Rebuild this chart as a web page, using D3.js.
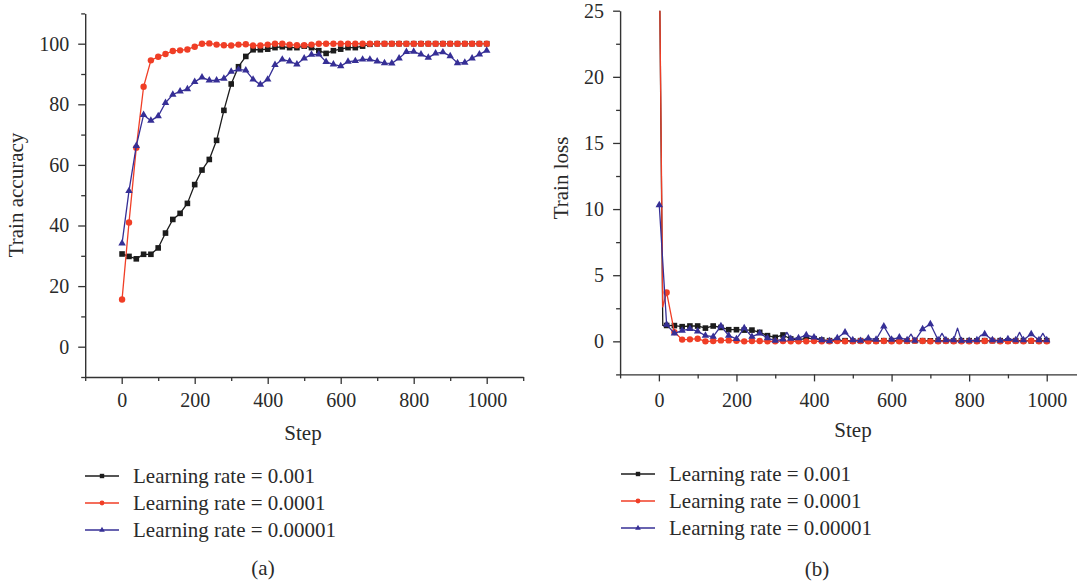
<!DOCTYPE html>
<html><head><meta charset="utf-8">
<script src="https://cdn.jsdelivr.net/npm/d3@7"></script>
<style>
body{margin:0;background:#fff}
svg{display:block}
text{font-family:"Liberation Serif","Times New Roman",serif;fill:#2a2a2a}
</style>
</head><body>
<svg id="c" width="1077" height="583"></svg>
<script>
// ---------- DATA ----------
const seriesNames = ["Learning rate = 0.001", "Learning rate = 0.0001", "Learning rate = 0.00001"];

const accSteps = [1,20,40,60,80,100,120,140,160,180,200,220,240,260,280,300,320,340,360,380,400,420,440,460,480,500,520,540,560,580,600,620,640,660,680,700,720,740,760,780,800,820,840,860,880,900,920,940,960,980,1000];
const acc001 = [30.6,29.8,29.0,30.5,30.5,32.6,37.5,42.0,44.0,47.3,53.5,58.3,61.8,68.1,78.0,86.7,92.4,95.8,98.0,98.0,98.2,98.7,99.0,98.7,98.7,99.2,98.7,97.7,96.8,97.7,98.2,98.7,98.7,99.2,99.8,100,100,100,100,100,100,100,100,100,100,100,100,100,100,100,100];
const acc0001 = [15.6,41.0,65.7,85.8,94.5,95.7,96.6,97.6,97.8,98.1,99.0,100.0,100.1,99.7,99.5,99.4,99.7,99.8,99.4,99.4,99.7,100.0,100.0,99.7,99.5,99.5,99.7,100,100,100,100,100,100,100,100,100,100,100,100,100,100,100,100,100,100,100,100,100,100,100,100];
const acc00001 = [34.1,51.4,66.3,76.5,74.6,76.1,80.5,83.2,84.3,85.0,87.4,88.9,87.9,87.9,88.5,90.8,91.5,91.2,88.2,86.5,88.2,93.0,94.8,94.2,93.2,95.2,96.4,96.5,94.0,93.2,92.6,94.1,94.3,94.8,94.8,94.2,93.6,93.5,95.2,97.3,97.4,96.5,95.4,96.8,97.2,95.9,93.6,93.8,95.2,96.5,97.7];

const lossStepsA = [1,10,20,40,60,80,100,120,140,160,180,200,220,240,260,280,300,320,340,360,380,400,420,440,460,480,500,520,540,560,580,600,620,640,660,680,700,720,740,760,780,800,820,840,860,880,900,920,940,960,980,1000];
const loss001 = [30,1.2,1.2,1.19,1.11,1.16,1.16,1.0,1.16,1.05,0.88,0.88,0.85,0.85,0.68,0.43,0.3,0.48,0.18,0.1,0.25,0.2,0.1,
  0.05,0.08,0.05,0.03,0.05,0.05,0.04,0.05,0.06,0.05,0.03,0.05,0.05,0.04,0.05,0.05,0.03,0.05,0.05,0.04,0.05,0.05,0.05,0.04,0.05,0.05,0.03,0.05,0.05];
const loss0001 = [30,2.6,3.7,0.7,0.13,0.15,0.2,0.0,0.02,0.07,0.07,0.05,0.0,0.02,0.02,0.0,0.0,0.03,0.0,0.0,0.0,0.02,0.0,
  0.0,0.02,0.0,0.0,0.02,0.0,0.0,0.03,0.0,0.0,0.02,0.05,0.03,0.0,0.0,0.02,0.0,0.0,0.0,0.0,0.02,0.05,0.0,0.0,0.02,0.0,0.05,0.0,0.0];
const lossStepsB = [1,20,40,60,80,100,120,140,160,180,200,220,240,260,280,300,320,330,340,360,380,400,420,440,460,480,500,520,540,560,580,600,620,640,650,660,680,700,720,730,740,760,770,780,800,820,830,840,860,880,900,920,930,940,960,980,990,1000];
const loss00001 = [10.3,1.26,0.6,0.81,0.94,0.76,0.43,0.35,1.16,0.43,0.18,1.0,0.35,0.6,0.25,0.05,0.15,0.68,0.2,0.25,0.48,0.3,0.1,0.02,0.25,0.68,0.1,0.05,0.23,0.13,1.14,0.13,0.3,0.1,0.55,0.05,0.93,1.31,0.1,0.6,0.1,0.1,1.0,0.05,0.05,0.1,0.45,0.55,0.1,0.05,0.18,0.1,0.68,0.1,0.55,0.1,0.6,0.1];

const xMajor = [0,200,400,600,800,1000];
const xMinor = [-100,100,300,500,700,900,1100];
const accMajor = [0,20,40,60,80,100];
const accMinor = [-10,10,30,50,70,90,110];
const lossMajor = [0,5,10,15,20,25];
const lossMinor = [-2.5,2.5,7.5,12.5,17.5,22.5];

// ---------- STYLE ----------
const colors = ["#1c1c1c", "#f03e26", "#362f96"];
const shapes = ["square", "circle", "triangle"];
const axisColor = "#333";

const svg = d3.select("#c");

function zip(steps, vals){ return steps.map((s,i)=>({step:s, v:vals[i]})); }

function drawMarker(g, shape, color, x, y, big){
  if(shape==="square"){
    const s = big?5.6:4.4;
    g.append("rect").attr("x",x-s/2).attr("y",y-s/2).attr("width",s).attr("height",s).attr("fill",color);
  } else if(shape==="circle"){
    g.append("circle").attr("cx",x).attr("cy",y).attr("r",big?3.2:2.4).attr("fill",color);
  } else {
    g.append("path").attr("d", d3.symbol(d3.symbolTriangle, big?24:14)()).attr("transform",`translate(${x},${y})`).attr("fill",color);
  }
}

function axes(g, x, y, yMaj, yMin, xPad){
  const ax = g.append("g").attr("transform",`translate(0,${y.range()[0]})`);
  ax.call(d3.axisBottom(x).tickValues(xMajor).tickSize(7).tickSizeOuter(0).tickPadding(xPad).tickFormat(d3.format("d")));
  const axm = g.append("g").attr("transform",`translate(0,${y.range()[0]})`);
  axm.call(d3.axisBottom(x).tickValues(xMinor).tickSize(4).tickSizeOuter(0).tickFormat(""));
  axm.select(".domain").remove();
  const ay = g.append("g").attr("transform",`translate(${x.range()[0]},0)`);
  ay.call(d3.axisLeft(y).tickValues(yMaj).tickSize(7).tickSizeOuter(0).tickPadding(9).tickFormat(d3.format("d")));
  const aym = g.append("g").attr("transform",`translate(${x.range()[0]},0)`);
  aym.call(d3.axisLeft(y).tickValues(yMin).tickSize(4).tickSizeOuter(0).tickFormat(""));
  aym.select(".domain").remove();
  g.selectAll(".domain").attr("stroke",axisColor).attr("stroke-width",1.4);
  g.selectAll(".tick line").attr("stroke",axisColor).attr("stroke-width",1.3);
  g.selectAll(".tick text").attr("font-size",20).attr("font-family",'"Liberation Serif", serif').attr("fill","#2a2a2a");
}

function series(g, x, y, data, color, shape, clipId){
  const gg = g.append("g");
  if(clipId) gg.attr("clip-path",`url(#${clipId})`);
  const line = d3.line().x(d=>x(d.step)).y(d=>y(d.v));
  gg.append("path").attr("d",line(data)).attr("fill","none").attr("stroke",color).attr("stroke-width",1.3).attr("stroke-linejoin","round");
  data.filter(d=>d.step===1 || d.step%20===0).forEach(d=>drawMarker(gg, shape, color, x(d.step), y(d.v), true));
}

function legend(g, x0, ys){
  seriesNames.forEach((name,i)=>{
    g.append("line").attr("x1",x0).attr("x2",x0+34).attr("y1",ys[i]).attr("y2",ys[i]).attr("stroke",colors[i]).attr("stroke-width",1.4);
    drawMarker(g, shapes[i], colors[i], x0+17, ys[i], false);
    g.append("text").attr("x",x0+48).attr("y",ys[i]).attr("dy","0.35em").attr("font-size",21).text(name);
  });
}

// ---------- PANEL A ----------
const xA = d3.scaleLinear([-100,1100],[85.2,523.2]);
const yA = d3.scaleLinear([-10,110],[377,13.4]);
const gA = svg.append("g");
axes(gA, xA, yA, accMajor, accMinor, 8.8);
[acc001, acc0001, acc00001].forEach((vals,i)=>series(gA, xA, yA, zip(accSteps, vals), colors[i], shapes[i], null));
gA.append("text").attr("transform","translate(23,195) rotate(-90)").attr("text-anchor","middle").attr("font-size",21).text("Train accuracy");
gA.append("text").attr("x",303).attr("y",440).attr("text-anchor","middle").attr("font-size",21).text("Step");
legend(gA, 85, [476, 503, 530]);
gA.append("text").attr("x",263).attr("y",568).attr("dy","0.35em").attr("text-anchor","middle").attr("font-size",21).text("(a)");

// ---------- PANEL B ----------
const xB = d3.scaleLinear([-100,1100],[620.1,1085.5]);
const yB = d3.scaleLinear([-2.5,25],[374.4,10.7]);
svg.append("defs").append("clipPath").attr("id","clipB").append("rect")
  .attr("x",xB.range()[0]).attr("y",yB.range()[1]).attr("width",xB.range()[1]-xB.range()[0]).attr("height",yB.range()[0]-yB.range()[1]);
const gB = svg.append("g");
axes(gB, xB, yB, lossMajor, lossMinor, 11.2);
series(gB, xB, yB, zip(lossStepsA, loss001), colors[0], shapes[0], "clipB");
series(gB, xB, yB, zip(lossStepsA, loss0001), colors[1], shapes[1], "clipB");
series(gB, xB, yB, zip(lossStepsB, loss00001), colors[2], shapes[2], "clipB");
gB.append("text").attr("transform","translate(568,178) rotate(-90)").attr("text-anchor","middle").attr("font-size",21).text("Train loss");
gB.append("text").attr("x",853).attr("y",437).attr("text-anchor","middle").attr("font-size",21).text("Step");
legend(gB, 621, [474, 501, 528]);
gB.append("text").attr("x",817).attr("y",569).attr("dy","0.35em").attr("text-anchor","middle").attr("font-size",21).text("(b)");
</script>
</body></html>
